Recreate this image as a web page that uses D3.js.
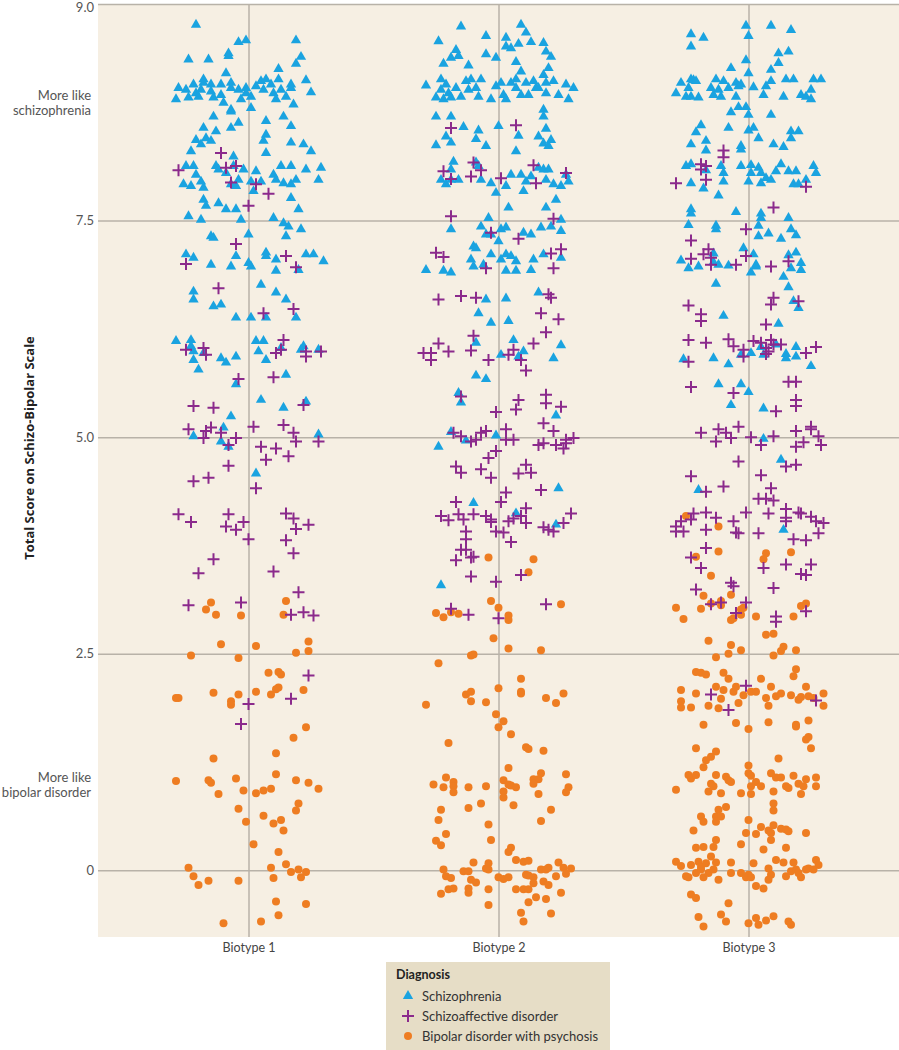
<!DOCTYPE html>
<html><head><meta charset="utf-8">
<script src="https://cdn.jsdelivr.net/npm/d3@7"></script>
<style>body{margin:0;background:#fff;} svg{display:block;font-family:Lato,"Open Sans",sans-serif;}</style>
</head><body>
<svg id="chart" width="899" height="1050"></svg>
<script>
const categories = ["Biotype 1","Biotype 2","Biotype 3"];
const diagnoses = ["Schizophrenia","Schizoaffective disorder","Bipolar disorder with psychosis"];
const yTickValues = [0,2.5,5,7.5,10];
const yTickLabels = ["0","2.5","5.0","7.5","9.0"];
const anchorTexts = [["More like","schizophrenia"],["More like","bipolar disorder"]];
const anchorScores = [8.86, 0.98];
const yTitle = "Total Score on Schizo-Bipolar Scale";
const legendTitle = "Diagnosis";

// each point: [horizontal jitter (fraction of category step), score]
const b1Schizophrenia = [[-0.21,9.76],[-0.04,9.56],[-0.01,9.58],[0.19,9.58],[-0.08,9.43],[-0.08,9.40],[-0.24,9.36],[-0.16,9.36],[0.21,9.39],[0.19,9.31],[0.12,9.25],[-0.09,9.20],[0.23,9.12],[-0.18,9.13],[0.25,8.98],
[-0.28,9.03],[-0.25,9.01],[-0.22,9.07],[-0.21,8.97],[-0.19,9.01],[-0.18,9.09],[-0.15,9.07],[-0.15,8.99],[-0.14,8.92],[-0.11,9.07],[-0.11,8.95],[-0.07,9.09],[-0.07,9.03],[-0.04,9.01],[-0.03,8.90],[-0.01,9.03],[-0.01,8.97],[0.01,8.80],[0.01,8.93],[0.03,9.05],[0.05,9.11],[0.06,9.01],[0.07,9.13],[0.09,9.07],[0.10,8.97],[0.11,8.90],[0.12,9.13],[0.13,9.01],[0.15,8.93],[0.17,9.03],[0.17,9.07],[0.18,8.84],[-0.29,8.90],[-0.24,8.92],[-0.20,8.93],[-0.10,8.86],[-0.07,8.78],
[-0.14,8.70],[-0.07,8.76],[0.07,8.65],[0.14,8.70],[-0.18,8.57],[-0.13,8.53],[-0.07,8.57],[-0.04,8.63],[0.17,8.59],[-0.21,8.43],[-0.17,8.45],[-0.19,8.38],[-0.15,8.42],[0.07,8.49],[0.06,8.42],[0.17,8.40],[0.22,8.38],[0.25,8.30],[-0.23,8.30],[0.07,8.28],[-0.06,8.24],
[-0.25,8.13],[-0.22,8.13],[-0.21,8.03],[-0.19,7.95],[-0.18,7.88],[-0.26,7.92],[-0.23,7.90],[-0.13,8.13],[-0.12,8.09],[-0.09,8.05],[-0.06,8.13],[-0.02,8.09],[-0.04,7.97],[-0.07,7.92],[-0.05,7.90],[0.03,8.07],[0.01,7.95],[0.05,7.95],[0.10,8.03],[0.11,7.97],[0.13,8.13],[0.17,8.13],[0.14,7.93],[0.17,7.92],[0.19,7.97],[0.23,8.09],[0.29,8.11],[0.28,7.97],[0.02,7.84],[-0.18,7.74],[-0.17,7.67],[-0.12,7.70],[-0.09,7.63],[-0.05,7.63],[0.17,7.76],[0.20,7.63],[-0.24,7.55],[-0.19,7.51],[-0.03,7.51],[0.10,7.53],[0.14,7.47],[0.16,7.43],[0.21,7.40],[0.15,7.32],[0,7.34],[-0.15,7.32],[-0.14,7.30],
[-0.25,7.11],[-0.22,7.07],[-0.15,6.99],[-0.07,6.97],[-0.05,7.09],[0,7.01],[0.01,6.97],[0.07,7.13],[0.07,7.09],[0.11,7.05],[0.11,6.92],[0.20,6.93],[0.23,7.11],[0.26,7.11],[0.30,7.03],[0.05,6.76],[0.11,6.67],[0.15,6.59],[-0.22,6.68],[-0.22,6.59],[-0.14,6.51],[-0.11,6.53],[-0.05,6.38],[0.01,6.38],[0.07,6.38],[0.19,6.38],
[-0.29,6.11],[-0.23,6.12],[-0.23,6.05],[-0.22,5.99],[-0.22,5.89],[-0.18,5.97],[-0.20,5.78],[-0.11,5.91],[-0.09,5.86],[-0.05,5.93],[0.03,6.11],[0.06,6.11],[0.04,5.99],[0.07,5.89],[0.15,5.72],[-0.05,5.61],[0.05,5.43],[0.14,5.34],[0.23,5.41],[-0.07,5.24],[-0.10,5.11],[-0.22,5.01],[-0.11,4.95],[-0.08,4.89],[0.28,5.03],[0.03,4.58],[0.13,6.03],[0.21,6.01],[0.28,6.01],[0.22,6.05]];

const b1Schizoaffective = [[-0.11,8.28],[-0.28,8.08],[-0.05,8.13],[-0.09,8.11],[-0.07,7.94],[0.03,7.92],[0.08,7.81],[0,7.67],[-0.05,7.23],[-0.25,7.00],[0.15,7.09],[0.19,6.96],[-0.12,6.72],[0.06,6.43],[0.18,6.48],
[-0.25,6.01],[-0.18,6.03],[-0.17,5.95],[0.14,6.12],[0.11,5.97],[0.13,6.01],[0.23,5.99],[0.29,5.99],[0.23,5.93],[-0.04,5.67],[0.10,5.69],[-0.22,5.36],[-0.14,5.34],[0.22,5.37],[-0.24,5.09],[-0.17,5.07],[-0.15,5.11],[-0.18,4.99],[-0.11,5.05],[-0.05,4.99],[-0.08,4.91],[0.02,5.12],[0.14,5.14],[0.18,5.05],[0.19,4.95],[0.28,4.95],[0.05,4.89],[0.11,4.87],[0.07,4.74],[0.16,4.78],[-0.08,4.67],[-0.22,4.49],[-0.16,4.53],[0.03,4.41],[-0.28,4.11],[-0.23,4.02],[-0.08,4.11],[-0.09,3.97],[-0.05,3.93],[-0.02,4.02],[0,3.82],[0.15,4.12],[0.18,4.06],[0.19,3.94],[0.24,3.99],[0.15,3.81],[0.18,3.66],[-0.14,3.59],[-0.20,3.43],[0.10,3.45],[0.20,3.21],[-0.24,3.06],[-0.03,3.09],[0.17,2.95],[0.22,2.98],[0.26,2.94],
[0.24,2.25],[0,1.92],[0.17,1.98],[-0.03,1.69]];

const b1Bipolar = [[-0.15,3.09],[-0.17,3.01],[-0.13,2.95],[-0.03,2.94],[0.15,3.11],[0.14,2.95],
[-0.11,2.61],[0.03,2.59],[0.24,2.64],[-0.23,2.48],[-0.04,2.45],[0.19,2.51],[0.24,2.53],[0.08,2.28],[0.12,2.29],[0.13,2.26],[0.03,2.06],[0.09,2.03],[0.11,2.09],[0.12,2.11],[0.22,2.08],[-0.14,2.05],[-0.04,2.03],[-0.07,1.95],[-0.07,1.91],[-0.29,1.99],[-0.28,1.99],[0.23,1.65],[0.18,1.53],[-0.14,1.29],[0.11,1.35],[0.11,1.11],[-0.29,1.03],[-0.16,1.04],[-0.15,1.01],[-0.05,1.06],[-0.12,0.88],[-0.02,0.92],[0.03,0.89],[0.06,0.92],[0.09,0.94],[0.19,1.04],[0.24,1.01],[0.28,0.94],[0.20,0.77],[0.19,0.69],[-0.04,0.71],[0.06,0.63],[-0.01,0.56],[0.10,0.54],[0.13,0.58],[0.14,0.46],[0.02,0.30],[0.12,0.21],[-0.24,0.03],[-0.22,-0.07],[-0.20,-0.17],[-0.16,-0.12],[-0.04,-0.12],[0.09,0.03],[0.10,-0.09],[0.15,0.07],[0.17,-0.02],[0.20,0.01],[0.21,-0.08],[0.23,-0.02],[0.11,-0.36],[0.23,-0.39],[0.12,-0.52],[-0.10,-0.61],[0.05,-0.59]];

const b2Schizophrenia = [[-0.15,9.74],[-0.24,9.57],[-0.05,9.63],[0.09,9.76],[0.11,9.67],[0.03,9.61],[0.03,9.51],[0.05,9.49],[0.08,9.54],[0.13,9.56],[0.18,9.55],[0.19,9.45],[0.21,9.39],[-0.17,9.47],[-0.19,9.38],[-0.16,9.40],[-0.05,9.42],[-0.01,9.38],[-0.22,9.31],[-0.12,9.29],[0.07,9.33],[0.09,9.22],[0.20,9.26],[0.18,9.18],
[-0.29,9.06],[-0.23,9.13],[-0.23,9.01],[-0.21,9.07],[-0.20,8.97],[-0.19,8.92],[-0.17,9.03],[-0.15,8.93],[-0.13,9.11],[-0.11,9.13],[-0.12,9.01],[-0.09,9.03],[-0.08,8.93],[-0.07,9.13],[-0.03,8.90],[-0.01,9.05],[0.01,9.09],[0.02,8.95],[0.03,8.90],[0.05,9.09],[0.07,9.13],[0.07,9.03],[0.09,8.95],[0.11,9.09],[0.12,8.95],[0.14,9.11],[0.15,9.03],[0.16,9.03],[0.19,9.09],[0.19,8.97],[0.22,9.11],[0.24,8.95],[0.27,9.07],[0.28,8.90],[0.30,9.03],[-0.25,8.92],[-0.22,8.90],
[0.18,8.78],[0.18,8.70],[-0.25,8.70],[-0.19,8.70],[-0.14,8.58],[0,8.59],[-0.08,8.54],[-0.21,8.47],[-0.19,8.40],[-0.25,8.37],[-0.09,8.44],[-0.05,8.36],[0.08,8.48],[0.16,8.47],[0.19,8.56],[0.18,8.39],[0.20,8.36],[0.21,8.43],[0.07,8.30],
[-0.18,8.18],[-0.19,8.09],[-0.23,7.97],[-0.21,7.92],[-0.19,7.97],[-0.16,7.97],[-0.09,8.17],[-0.08,8.13],[-0.07,7.97],[-0.03,7.93],[-0.01,7.82],[0.03,7.90],[0.05,8.03],[0.09,8.03],[0.10,7.84],[0.11,7.95],[0.13,8.01],[0.16,8.11],[0.18,8.09],[0.20,8.09],[0.19,7.97],[0.22,7.92],[0.25,7.90],[0.28,7.95],[0.27,8.03],[0.23,7.74],[0.19,7.65],[0.04,7.65],[-0.04,7.53],
[-0.19,7.40],[-0.07,7.43],[-0.05,7.34],[-0.03,7.34],[0.01,7.40],[0.03,7.42],[0.10,7.36],[0.13,7.34],[0.17,7.42],[0.21,7.43],[0.25,7.38],[0.25,7.51],[-0.10,7.20],[-0.09,7.18],[0,7.26],[-0.03,7.11],[0.03,7.11],[0.05,7.09],[-0.11,7.05],[-0.10,6.97],[-0.06,6.99],[0.01,7.05],[0.07,7.03],[0.14,7.05],[0.18,7.11],[0.25,7.07],[-0.29,6.93],[-0.22,6.92],[-0.19,6.90],[0.03,6.92],[0.07,6.92],[0.13,6.93],[-0.05,6.59],[0.03,6.60],[0.16,6.67],[-0.08,6.43],[-0.03,6.32],[0.04,6.34],
[-0.09,6.09],[0.06,6.12],[0.25,6.06],[0.01,5.95],[0.10,5.99],[0.08,5.93],[0.22,5.91],[-0.09,5.71],[-0.05,5.67],[-0.16,5.51],[-0.15,5.40],[0.23,5.25],[-0.19,5.06],[-0.13,4.96],[-0.01,5.02],[-0.24,4.89],[0.24,4.41],[-0.10,4.24],[0.07,4.12],[0.23,3.99],[-0.23,3.29]];

const b2Schizoaffective = [[-0.19,8.57],[0.07,8.60],[-0.10,8.17],[-0.22,8.07],[-0.19,7.98],[-0.11,8.01],[-0.07,8.08],[0.01,7.99],[0.14,8.14],[0.15,7.93],[0.27,8.05],[-0.19,7.55],[0.22,7.52],[-0.03,7.36],[0.08,7.29],[-0.25,7.13],[-0.22,7.08],[-0.05,6.95],[0.21,7.12],[0.25,7.17],[0.22,6.95],[-0.24,6.59],[-0.15,6.63],[-0.09,6.61],[0.20,6.65],[0.21,6.61],[0.17,6.43],[0.24,6.36],
[-0.10,6.17],[-0.24,6.08],[-0.30,5.97],[-0.27,5.97],[-0.27,5.89],[-0.20,5.99],[-0.11,6.00],[-0.04,5.89],[0.04,5.95],[0.06,6.01],[0.09,5.89],[0.14,6.08],[0.11,5.77],[0.19,6.21],[-0.15,5.47],[-0.01,5.29],[0.08,5.43],[0.07,5.32],[0.19,5.49],[0.19,5.39],[0.25,5.35],[0.18,5.16],[0.22,5.07],[-0.18,5.05],[-0.15,5.01],[-0.11,4.95],[-0.09,4.97],[-0.07,5.05],[-0.05,5.07],[0.03,5.09],[0.03,4.97],[0.06,4.97],[-0.01,4.84],[-0.04,4.76],[-0.17,4.66],[-0.15,4.59],[-0.07,4.63],[-0.03,4.53],[0.08,4.58],[0.11,4.68],[0.13,4.59],[0.17,4.39],[0.16,4.91],[0.18,4.93],[0.23,4.91],[0.27,4.93],[0.27,4.97],[0.30,4.99],[0.26,4.87],
[0.03,4.36],[0.01,4.25],[-0.17,4.25],[-0.23,4.09],[-0.20,4.04],[-0.16,4.11],[-0.14,4.05],[-0.10,4.11],[-0.05,4.09],[-0.03,4.05],[-0.03,4.02],[0.04,4.03],[0.06,4.06],[0.09,4.09],[0.11,4.18],[0.11,4.01],[0.29,4.12],[0.18,3.96],[0.20,3.93],[0.22,3.91],[0.26,4.01],[-0.13,3.91],[-0.13,3.82],[-0.13,3.70],[-0.15,3.70],[-0.11,3.61],[-0.10,3.62],[-0.17,3.58],[-0.01,3.91],[0.02,3.90],[0.05,3.79],[-0.11,3.39],[-0.01,3.33],[0.09,3.41],[0.19,3.07],[-0.19,3.02],[-0.12,2.95],[0,2.91]];

const b2Bipolar = [[-0.04,3.61],[0.14,3.59],[0.12,3.44],[-0.03,3.11],[0,3.03],[-0.25,2.97],[-0.22,2.92],[-0.19,2.98],[-0.16,2.96],[0.04,2.94],[0.04,2.89],[0.25,3.07],[-0.02,2.68],
[0.04,2.56],[0.17,2.54],[-0.11,2.48],[-0.10,2.49],[-0.24,2.39],[0.09,2.21],[0,2.10],[-0.13,2.03],[-0.11,2.06],[-0.11,1.95],[-0.05,1.94],[0.09,2.04],[0.09,2.06],[0.19,1.99],[0.23,1.93],[0.26,2.04],[-0.29,1.91],[-0.01,1.80],[0.02,1.72],[0,1.65],[0.05,1.57],[-0.20,1.47],[0.11,1.42],[0.12,1.40],[0.18,1.38],[0.04,1.18],
[-0.21,1.07],[-0.18,1.02],[-0.18,0.97],[-0.18,0.90],[-0.26,0.99],[-0.22,0.96],[-0.12,0.96],[-0.05,0.97],[0.02,1.04],[0.04,0.99],[0.05,0.98],[0.07,0.96],[0.02,0.91],[0.02,0.84],[0.06,0.75],[0.14,1.05],[0.16,1.05],[0.17,1.12],[0.14,1.00],[0.16,0.88],[0.27,1.11],[0.28,0.96],[0.27,0.90],[-0.23,0.70],[-0.24,0.58],[-0.12,0.72],[-0.07,0.77],[-0.04,0.53],[-0.03,0.35],[-0.21,0.42],[-0.25,0.34],[-0.23,0.29],[0.17,0.57],[0.21,0.70],
[0.05,0.26],[0.04,0.21],[0.07,0.12],[-0.10,0.09],[-0.04,0.08],[-0.04,0.01],[0.10,0.10],[0.12,0.11],[-0.22,0.01],[-0.21,-0.07],[-0.19,-0.09],[-0.14,-0.01],[-0.12,-0.01],[-0.05,0.02],[-0.11,-0.11],[-0.09,-0.14],[0,-0.08],[0.02,-0.10],[0.04,-0.08],[0.11,-0.05],[0.12,-0.06],[0.14,-0.08],[0.14,-0.15],[0.17,0.01],[0.19,0.01],[0.20,0.03],[0.23,-0.07],[0.24,0.09],[0.26,0.03],[0.27,-0.04],[0.29,0.02],[0.18,-0.13],[0.20,-0.17],
[-0.23,-0.27],[-0.20,-0.22],[-0.18,-0.21],[-0.12,-0.21],[-0.12,-0.26],[-0.04,-0.22],[0.07,-0.22],[0.10,-0.22],[0.12,-0.22],[0.15,-0.31],[0.19,-0.33],[0.25,-0.26],[0.12,-0.37],[-0.04,-0.40],[0.09,-0.49],[0.10,-0.59],[0.21,-0.50]];

const b3Schizophrenia = [[-0.01,9.75],[0.09,9.75],[0.17,9.70],[-0.23,9.65],[-0.18,9.61],[-0.23,9.51],[0,9.63],[0.12,9.43],[0.16,9.45],[-0.01,9.35],[0.12,9.32],[-0.07,9.26],[0,9.20],[0.09,9.24],
[-0.27,9.09],[-0.29,8.97],[-0.23,9.13],[-0.24,9.03],[-0.22,9.12],[-0.21,9.11],[-0.20,8.92],[-0.25,8.93],[-0.23,8.93],[-0.15,9.03],[-0.14,8.95],[-0.13,9.13],[-0.12,9.01],[-0.11,8.93],[-0.10,9.11],[-0.08,9.03],[-0.05,9.09],[-0.04,9.05],[-0.03,9.07],[-0.05,8.93],[0.02,9.04],[0.06,8.95],[0.07,9.05],[0.09,9.11],[0.14,8.93],[0.15,9.13],[0.18,9.13],[0.21,8.95],[0.23,8.93],[0.25,8.90],[0.25,9.01],[0.26,9.13],[0.29,9.13],
[-0.07,8.75],[-0.04,8.81],[-0.01,8.81],[0,8.72],[0.09,8.72],[-0.19,8.60],[-0.21,8.52],[-0.23,8.38],[-0.17,8.42],[-0.17,8.31],[-0.08,8.57],[0,8.54],[0.02,8.57],[0.04,8.45],[0.10,8.38],[0.14,8.35],[0.17,8.53],[0.17,8.45],[0.20,8.53],[-0.03,8.32],[-0.03,8.36],
[-0.25,8.13],[-0.23,8.15],[-0.23,7.93],[-0.18,7.87],[-0.17,8.08],[-0.11,8.13],[-0.10,8.05],[-0.10,7.95],[-0.03,8.13],[0.01,8.14],[0.01,8.05],[0,7.95],[0.04,8.11],[0.05,8.05],[0.05,7.93],[0.07,7.99],[0.09,7.97],[0.11,8.07],[0.13,8.15],[0.16,8.07],[0.19,8.07],[0.18,7.92],[0.20,7.92],[0.23,7.97],[0.26,8.13],[0.27,8.05],[-0.12,7.79],
[-0.23,7.63],[-0.23,7.58],[-0.05,7.60],[0.05,7.58],[0.05,7.53],[0.16,7.53],[-0.24,7.45],[-0.13,7.44],[-0.13,7.40],[0.04,7.44],[0.04,7.32],[0.08,7.35],[0.13,7.29],[0.17,7.40],[0.19,7.33],
[-0.27,7.04],[-0.24,6.95],[-0.20,6.97],[-0.14,7.12],[-0.14,7.02],[-0.12,6.99],[-0.08,6.98],[-0.02,7.18],[0.02,7.11],[0.03,6.99],[0.03,6.97],[0.01,6.90],[0.14,6.85],[0.16,7.10],[0.17,6.95],[0.19,7.13],[0.21,7.01],[0.21,6.93],[-0.13,6.77],[0.16,6.73],[0.18,6.57],[0.20,6.49],[-0.10,6.40],[0.12,6.31],
[-0.26,5.90],[-0.14,5.91],[-0.08,5.84],[-0.03,5.95],[0.01,5.97],[0.05,6.04],[0.06,5.95],[0.11,6.07],[0.15,5.96],[0.15,5.91],[0.19,6.04],[-0.12,5.61],[-0.03,5.61],[0,5.52],[-0.07,5.37],[0.06,5.33],[0.06,4.98],[0.13,4.74],[-0.20,4.39],[0.14,3.93],[0.19,5.93],[0.25,5.82]];

const b3Schizoaffective = [[-0.10,8.31],[-0.10,8.23],[-0.19,8.15],[-0.17,8.13],[-0.19,8.09],[-0.17,7.97],[-0.29,7.93],[0.23,7.89],[0.10,7.65],[-0.01,7.40],[-0.23,7.27],[-0.23,7.06],[-0.18,7.11],[-0.16,7.17],[-0.15,7.07],[-0.15,6.99],[-0.05,6.99],[-0.01,7.09],[0.09,6.97],[0.16,7.03],[-0.24,6.52],[-0.19,6.42],[-0.19,6.34],[0.10,6.61],[0.09,6.53],[0.20,6.57],[0.07,6.30],
[-0.24,6.12],[-0.17,6.09],[-0.08,6.13],[-0.06,6.05],[-0.02,6.01],[-0.02,5.93],[0.02,6.11],[0.05,6.09],[0.07,6.03],[0.09,6.12],[0.10,6.07],[0.13,6.07],[0.08,5.99],[0.07,5.96],[0.23,5.97],[0.27,6.04],[-0.24,5.87],[-0.23,5.58],[-0.06,5.51],[0.16,5.64],[0.19,5.64],[0.19,5.43],[0.19,5.36],[0.11,5.30],
[-0.19,5.05],[-0.13,4.95],[-0.12,5.09],[-0.09,5.05],[-0.07,4.99],[-0.04,5.12],[0.01,5.00],[0.05,4.91],[0.10,5.01],[0.19,5.07],[0.19,4.89],[0.22,4.94],[0.25,5.12],[0.25,5.09],[0.28,5.01],[0.29,4.91],[-0.04,4.72],[0.05,4.56],[0.15,4.66],[0.19,4.68],[-0.23,4.55],[-0.17,4.37],[-0.10,4.43],[0.09,4.41],[0.04,4.29],[0.07,4.29],[0.10,4.27],[0.15,4.17],
[-0.01,4.13],[0.08,4.12],[0.20,4.13],[0.21,4.12],[0.25,4.08],[0.27,4.03],[0.30,4.01],[0.28,3.89],[0.15,4.03],[0.15,4.07],[-0.22,4.12],[-0.23,4.05],[-0.27,4.03],[-0.29,3.97],[-0.29,3.91],[-0.26,3.91],[-0.17,4.13],[-0.13,4.07],[-0.17,3.93],[-0.06,4.03],[-0.05,3.90],[-0.04,3.89],[0.04,3.89],[0.18,3.82],[0.23,3.81],[-0.17,3.72],[-0.23,3.61],[-0.19,3.49],[0.06,3.49],[0.15,3.53],[0.21,3.42],[0.25,3.53],[0.23,3.41],[-0.07,3.32],[-0.06,3.28],[-0.21,3.24],[0.10,3.26],[-0.15,3.07],[-0.11,3.09],[-0.01,3.09],[-0.05,2.97],[0.11,2.93],[0.11,2.87],[0.23,2.99],
[-0.15,2.03],[-0.08,1.85],[-0.01,2.13],[0.27,1.96]];

const b3Bipolar = [[-0.25,4.09],[-0.12,3.97],[-0.12,3.68],[-0.21,3.62],[-0.15,3.40],[0.07,3.66],[0.06,3.59],[0.17,3.67],[-0.18,3.17],[-0.07,3.18],[-0.29,3.03],[-0.26,2.90],[-0.19,3.02],[-0.15,3.08],[-0.11,3.11],[-0.11,3.06],[-0.03,3.01],[-0.02,3.03],[-0.03,2.95],[-0.07,2.89],[-0.06,2.91],[0.03,2.93],[0.18,2.93],[0.21,3.05],[0.23,3.08],[0.07,2.72],[0.10,2.73],
[-0.16,2.65],[-0.07,2.60],[-0.03,2.54],[-0.08,2.50],[-0.13,2.46],[0.10,2.48],[0.13,2.53],[0.14,2.58],[0.19,2.54],[-0.21,2.29],[-0.19,2.28],[-0.17,2.26],[-0.10,2.28],[-0.08,2.21],[0.05,2.21],[0.18,2.24],[0.19,2.32],
[-0.27,2.08],[-0.21,2.04],[-0.27,1.95],[-0.27,1.88],[-0.23,1.88],[-0.16,1.90],[-0.13,2.12],[-0.11,1.98],[-0.12,1.87],[-0.10,2.08],[-0.06,2.06],[-0.05,2.12],[-0.04,1.93],[-0.02,2.02],[0.01,2.06],[0.03,2.06],[0.07,1.99],[0.09,2.12],[0.11,2.01],[0.13,2.04],[0.17,2.02],[0.20,1.97],[0.21,2.00],[0.23,2.12],[0.24,2.01],[0.26,1.99],[0.30,2.04],[0.30,1.90],[0.08,1.90],
[-0.18,1.68],[-0.05,1.70],[0,1.63],[0.08,1.71],[0.19,1.68],[0.19,1.66],[0.24,1.73],[0.23,1.51],[0.24,1.54],[0.25,1.41],[-0.21,1.41],[-0.13,1.37],[-0.15,1.31],[-0.17,1.27],[-0.18,1.19],
[-0.24,1.10],[-0.23,1.06],[-0.21,1.10],[-0.29,0.93],[-0.15,1.00],[-0.13,1.10],[-0.09,1.08],[-0.08,1.04],[-0.07,1.02],[-0.16,0.91],[-0.14,0.97],[-0.11,0.89],[-0.03,0.89],[0,1.21],[0,1.12],[0.01,1.09],[0.01,0.97],[0.01,0.88],[0.03,1.02],[0.05,0.97],[0.09,1.12],[0.11,1.07],[0.13,1.07],[0.10,0.91],[0.15,0.97],[0.16,0.95],[0.18,1.09],[0.20,1.00],[0.22,0.97],[0.23,1.05],[0.21,0.88],[0.27,1.07],[0.27,0.97],[0.12,1.29],[0.10,0.77],[0.10,0.69],
[-0.19,0.62],[-0.18,0.56],[-0.13,0.62],[-0.12,0.70],[-0.09,0.73],[-0.13,0.56],[-0.11,0.62],[0,0.58],[0.05,0.50],[0.08,0.46],[0.09,0.43],[0.10,0.52],[0.13,0.48],[0.15,0.47],[0.16,0.45],[0.23,0.43],[-0.22,0.46],[-0.01,0.43],[0.03,0.42],[0.09,0.35],[-0.21,0.26],[-0.18,0.27],[-0.14,0.27],[-0.13,0.35],[-0.03,0.30],[0.06,0.24],[0.15,0.26],
[-0.15,0.16],[-0.29,0.10],[-0.27,0.05],[-0.23,0.06],[-0.20,0.10],[-0.19,0.04],[-0.17,0.08],[-0.13,0.09],[-0.07,0.09],[0.02,0.08],[0.11,0.12],[0.14,0.09],[0.18,0.09],[0.27,0.12],[0.28,0.06],[-0.21,-0.03],[-0.19,0.01],[-0.18,-0.08],[-0.16,-0.03],[-0.14,0.01],[-0.12,-0.11],[-0.07,-0.03],[-0.03,-0.03],[-0.01,-0.08],[0,-0.05],[0.01,-0.08],[0.08,0.02],[0.09,-0.05],[0.08,-0.11],[0.15,-0.07],[0.17,-0.01],[0.19,0.01],[0.20,-0.03],[0.21,-0.08],[0.23,0.01],[0.24,0.02],[0.26,0.01],[-0.25,-0.07],[-0.24,-0.08],[0.03,-0.18],[0.06,-0.21],
[-0.23,-0.28],[-0.21,-0.32],[-0.08,-0.38],[-0.20,-0.54],[-0.18,-0.65],[-0.11,-0.51],[-0.09,-0.59],[0,-0.61],[0.03,-0.55],[0.04,-0.63],[0.07,-0.58],[0.10,-0.53],[0.16,-0.59],[0.17,-0.63]];

const seriesByBiotype = [
  [b1Schizophrenia, b1Schizoaffective, b1Bipolar],
  [b2Schizophrenia, b2Schizoaffective, b2Bipolar],
  [b3Schizophrenia, b3Schizoaffective, b3Bipolar]
];

const colors = ["#1aa3e0", "#8b2a8c", "#ee7d22"];
const plot = {left: 98, right: 899, top: 4, bottom: 937};

const svg = d3.select("#chart");
const x = d3.scalePoint().domain(categories).range([plot.left, plot.right]).padding(0.602);
const y = d3.scaleLinear().domain([-0.77, 10]).range([plot.bottom, plot.top]);

svg.append("rect").attr("x", plot.left).attr("y", plot.top)
  .attr("width", plot.right - plot.left).attr("height", plot.bottom - plot.top)
  .attr("fill", "#f6efe3");

const gridColor = "#b8b2a8";
// horizontal grid + y labels
svg.append("g").attr("transform", `translate(${plot.left},0)`)
  .call(d3.axisLeft(y).tickValues(yTickValues).tickFormat((d, i) => yTickLabels[i])
    .tickSize(-(plot.right - plot.left)).tickPadding(4))
  .call(g => {
    g.select(".domain").remove();
    g.selectAll(".tick line").attr("stroke", gridColor).attr("stroke-width", 1.5);
    g.selectAll(".tick text").attr("fill", "#555").attr("font-size", 13)
      .attr("font-family", "Lato, 'Open Sans', sans-serif")
      .attr("y", d => d === yTickValues[yTickValues.length - 1] ? 3 : 0);
  });

// vertical grid + category labels
svg.append("g").attr("transform", `translate(0,${plot.bottom})`)
  .call(d3.axisBottom(x).tickSize(-(plot.bottom - plot.top)).tickPadding(6))
  .call(g => {
    g.select(".domain").remove();
    g.selectAll(".tick line").attr("stroke", gridColor).attr("stroke-width", 1.5);
    g.selectAll(".tick text").attr("fill", "#444").attr("font-size", 12.5)
      .attr("font-family", "Lato, 'Open Sans', sans-serif");
  });

// anchor labels
anchorTexts.forEach((lines, i) => {
  const t = svg.append("text").attr("text-anchor", "end").attr("fill", "#555")
    .attr("font-size", 13);
  lines.forEach((ln, j) => {
    t.append("tspan").attr("x", plot.left - 7).attr("y", y(anchorScores[i]) - 3 + j * 15).text(ln);
  });
});

// y title
svg.append("text").attr("transform", `translate(34,448) rotate(-90)`)
  .attr("text-anchor", "middle").attr("font-weight", "bold").attr("font-size", 13)
  .attr("font-family", "'Open Sans', sans-serif")
  .attr("fill", "#222").text(yTitle);

const triPath = d3.symbol().type(d3.symbolTriangle).size(46)();
const crossPath = "M-6,0H6M0,-6V6";

function drawPoints(g, pts, diagIndex, cat) {
  const cx = x(cat), step = x.step();
  const sel = g.selectAll(null).data(pts).enter();
  if (diagIndex === 0) {
    sel.append("path").attr("d", triPath)
      .attr("transform", d => `translate(${cx + d[0] * step},${y(d[1])})`)
      .attr("fill", colors[0]);
  } else if (diagIndex === 1) {
    sel.append("path").attr("d", crossPath)
      .attr("transform", d => `translate(${cx + d[0] * step},${y(d[1])})`)
      .attr("stroke", colors[1]).attr("stroke-width", 2).attr("fill", "none");
  } else {
    sel.append("circle").attr("cx", d => cx + d[0] * step).attr("cy", d => y(d[1]))
      .attr("r", 4).attr("fill", colors[2]);
  }
}

const layerOrder = [0, 2, 1];
layerOrder.forEach(di => {
  const g = svg.append("g");
  categories.forEach((cat, ci) => drawPoints(g, seriesByBiotype[ci][di], di, cat));
});

// legend
const lg = svg.append("g");
lg.append("rect").attr("x", 386).attr("y", 962).attr("width", 224).attr("height", 90).attr("fill", "#e6ddc6");
lg.append("text").attr("x", 396).attr("y", 979).attr("font-weight", "bold").attr("font-size", 12.5)
  .attr("fill", "#222").text(legendTitle);
diagnoses.forEach((d, i) => {
  const cy = 996 + i * 20;
  const item = lg.append("g").attr("transform", `translate(408,${cy})`);
  if (i === 0) item.append("path").attr("d", triPath).attr("fill", colors[0]);
  else if (i === 1) item.append("path").attr("d", crossPath).attr("stroke", colors[1]).attr("stroke-width", 2);
  else item.append("circle").attr("r", 4).attr("fill", colors[2]);
  lg.append("text").attr("x", 422).attr("y", cy + 5).attr("font-size", 13).attr("fill", "#333").text(d);
});
</script>
</body></html>
